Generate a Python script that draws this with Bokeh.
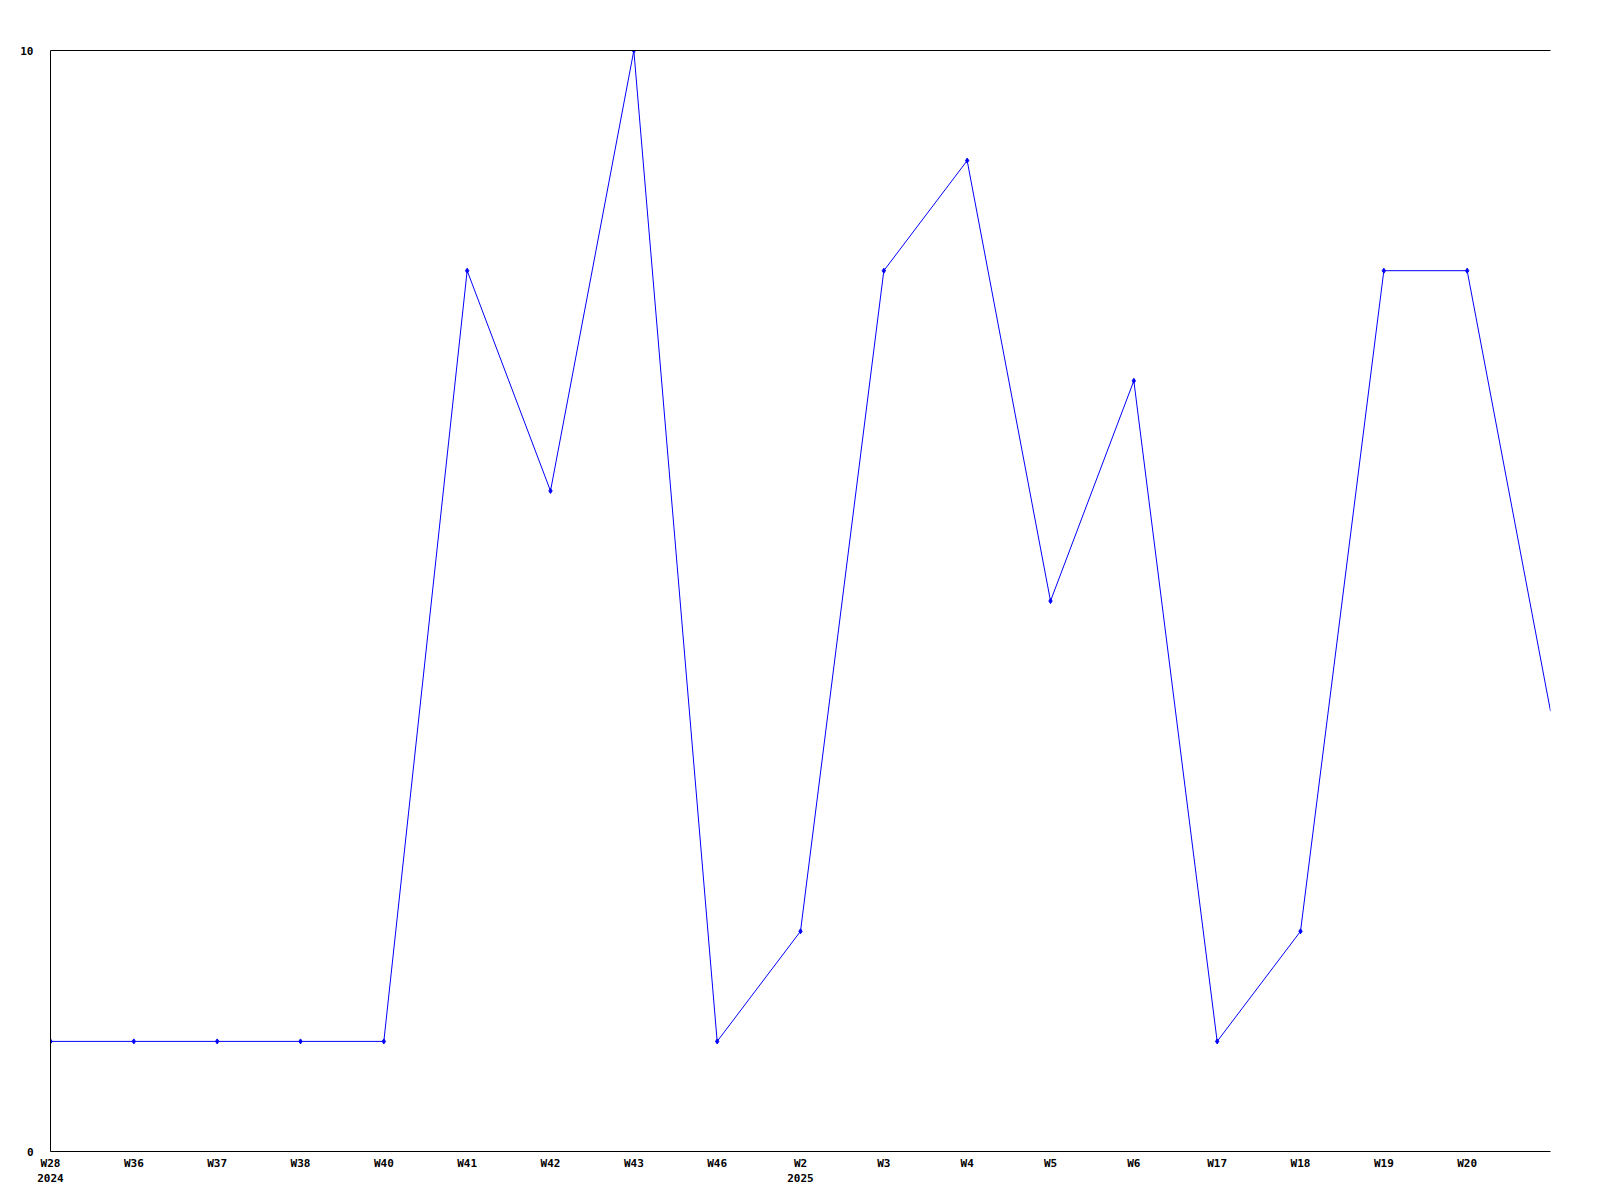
from bokeh.plotting import figure
from bokeh.models import LinearAxis, FixedTicker, Range1d
from bokeh.embed import file_html
from bokeh.resources import INLINE

weeks = ["W28", "W36", "W37", "W38", "W40", "W41", "W42", "W43", "W46",
         "W2", "W3", "W4", "W5", "W6", "W17", "W18", "W19", "W20", ""]
years = {0: "2024", 9: "2025"}
values = [1, 1, 1, 1, 1, 8, 6, 10, 1, 2, 8, 9, 5, 7, 1, 2, 8, 8, 4]
y_ticks = [0, 10]

xs = list(range(len(values)))
FONT = "DejaVu Sans Mono"

p = figure(width=1584, height=1184, output_backend="svg", toolbar_location=None,
           x_range=Range1d(0, len(values) - 1), y_range=Range1d(0, 10),
           x_axis_location=None, y_axis_location=None)
p.min_border_left = 50
p.min_border_top = 50
p.min_border_right = 34
p.min_border_bottom = 0
p.outline_line_color = None
p.grid.visible = False
p.background_fill_color = "white"
p.border_fill_color = "white"

def style(ax, size="11px"):
    ax.major_tick_line_color = None
    ax.minor_tick_line_color = None
    ax.major_label_text_font = FONT
    ax.major_label_text_font_style = "bold"
    ax.major_label_text_font_size = size
    ax.major_label_text_color = "black"
    ax.axis_line_color = "black"
    ax.axis_line_width = 1

xax = LinearAxis(ticker=FixedTicker(ticks=xs),
                 major_label_overrides={i: w for i, w in enumerate(weeks)})
style(xax)
xax.major_label_standoff = -1
p.add_layout(xax, "below")

yax2 = LinearAxis(ticker=FixedTicker(ticks=list(years.keys())),
                  major_label_overrides=years)
style(yax2)
yax2.axis_line_color = None
yax2.major_label_standoff = -5
p.add_layout(yax2, "below")

yax = LinearAxis(ticker=FixedTicker(ticks=y_ticks),
                 major_label_overrides={0: "0", 10: "10"})
style(yax)
yax.major_label_standoff = 11
p.add_layout(yax, "left")

top = LinearAxis(ticker=FixedTicker(ticks=[]))
style(top)
top.major_label_text_font_size = "0px"
p.add_layout(top, "above")

p.line(xs, values, line_color="#0000ff", line_width=1)
p.scatter(xs[:-1], values[:-1], marker="diamond", size=5, color="#0000ff")

open("out.html", "w").write(file_html(p, INLINE))
